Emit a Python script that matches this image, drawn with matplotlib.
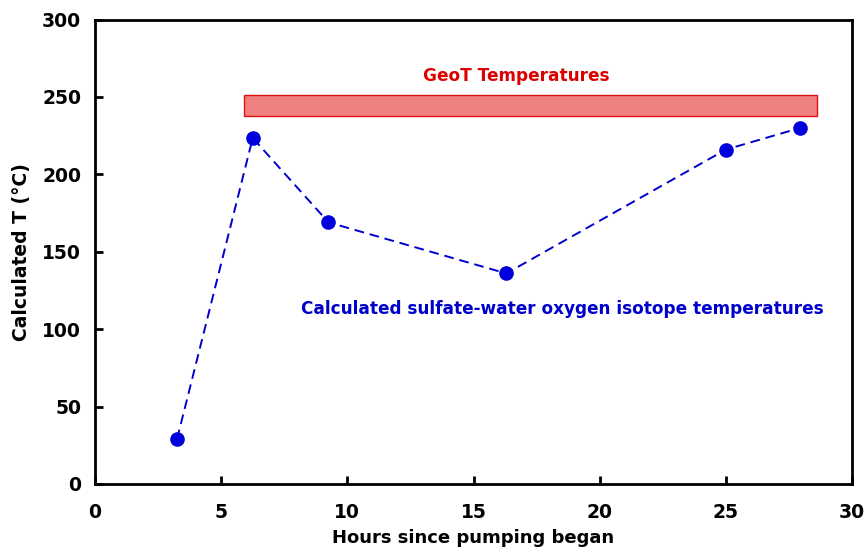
import matplotlib
matplotlib.use("Agg")
import matplotlib.pyplot as plt
from matplotlib.patches import Rectangle

# Sampling times and calculated sulfate-water oxygen isotope temperatures
hours = [3.25, 6.25, 9.25, 16.3, 25.0, 27.95]
temps = [29, 223.5, 169, 136, 216, 230]

# GeoT temperature range (band)
geot_hours = [5.9, 28.6]
geot_temps = [238, 251.5]

x_ticks = [0, 5, 10, 15, 20, 25, 30]
y_ticks = [0, 50, 100, 150, 200, 250, 300]

plt.rcParams['font.family'] = ['DejaVu Sans']
plt.rcParams['font.weight'] = 'bold'

fig = plt.figure(figsize=(8.67, 5.47), dpi=100)
ax = fig.add_axes([0.1096, 0.1152, 0.8731, 0.8491])

ax.add_patch(Rectangle((geot_hours[0], geot_temps[0]),
                       geot_hours[1] - geot_hours[0],
                       geot_temps[1] - geot_temps[0],
                       facecolor='#ee8080', edgecolor='#e01010', linewidth=1.0, zorder=2))

ax.plot(hours, temps, linestyle=(0, (5, 3)), color='#0000cc', linewidth=1.4,
        marker='o', markersize=9.5, markerfacecolor='#0000dd',
        markeredgecolor='#0000dd', zorder=3)

ax.text(16.7, 263.5, 'GeoT Temperatures', color='#dd0000', fontsize=12.2,
        fontweight='bold', ha='center', va='center')
ax.text(18.5, 113, 'Calculated sulfate-water oxygen isotope temperatures',
        color='#0000cc', fontsize=12.2, fontweight='bold', ha='center', va='center')

ax.set_xlim(0, 30)
ax.set_ylim(0, 300)
ax.set_xticks(x_ticks)
ax.set_yticks(y_ticks)
ax.tick_params(direction='in', length=6, width=2, labelsize=13.5,
               top=False, right=False, pad=10)
ax.tick_params(axis='x', pad=14)
for lbl in ax.get_xticklabels() + ax.get_yticklabels():
    lbl.set_fontweight('bold')
for s in ax.spines.values():
    s.set_linewidth(2)

ax.set_xlabel('Hours since pumping began', fontsize=13, fontweight='bold', labelpad=5)
ax.set_ylabel('Calculated T (°C)', fontsize=13.5, fontweight='bold', labelpad=8)

fig.savefig('out.png', dpi=100)
